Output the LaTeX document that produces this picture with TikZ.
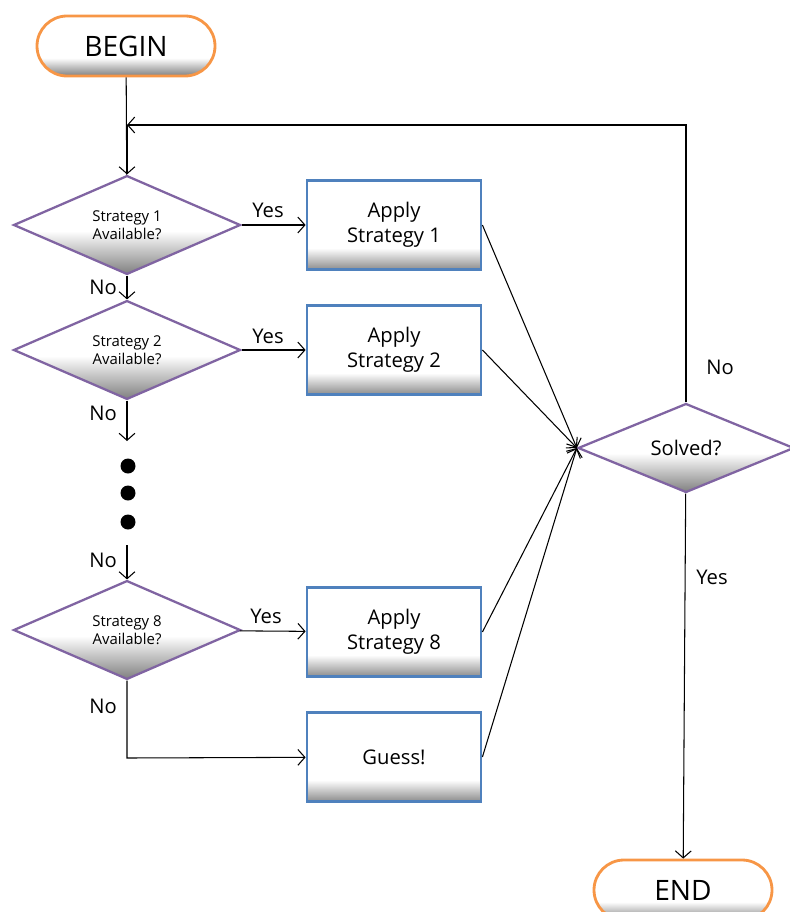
\documentclass[tikz,border=0pt]{standalone}
\usepackage{fontspec}
\setmainfont{Open Sans}
\usetikzlibrary{shapes.geometric,arrows.meta}
\definecolor{termorange}{HTML}{F79646}
\definecolor{boxblue}{HTML}{4F81BD}
\definecolor{testpurple}{HTML}{8064A2}
% bottom bevels: gray at the lower edge, white above
\pgfdeclareverticalshading{bevelterm}{100bp}{color(0bp)=(black!50); color(25bp)=(black!50); color(40bp)=(white); color(100bp)=(white)}
\pgfdeclareverticalshading{bevelbox}{100bp}{color(0bp)=(black!45); color(25bp)=(black!45); color(37bp)=(white); color(100bp)=(white)}
\pgfdeclareverticalshading{beveltest}{100bp}{color(0bp)=(black!50); color(25bp)=(black!50); color(47bp)=(white); color(100bp)=(white)}
\begin{document}
\begin{tikzpicture}[auto,
    terminal/.style ={rectangle, rounded corners=0.6cm, draw=termorange, line width=1.6pt,
      minimum width=3.56cm, minimum height=1.2cm, font=\fontsize{16}{18}\selectfont,
      path picture={\shade[shading=bevelterm] (path picture bounding box.south west) rectangle (path picture bounding box.north east);}},
    strategy/.style ={rectangle, draw=boxblue, line width=1.6pt, align=center,
      minimum width=3.48cm, minimum height=1.78cm, font=\fontsize{11.5}{14}\selectfont,
      path picture={\shade[shading=bevelbox] (path picture bounding box.south west) rectangle (path picture bounding box.north east);}},
    question/.style ={diamond, draw=testpurple, line width=1.3pt, align=center, inner sep=0pt,
      minimum width=4.54cm, minimum height=1.72cm, font=\fontsize{8.5}{10.5}\selectfont,
      path picture={\shade[shading=beveltest] (path picture bounding box.south west) rectangle (path picture bounding box.north east);}},
    answer/.style ={font=\fontsize{11.5}{14}\selectfont},
    dot/.style ={circle, fill=black, inner sep=0pt, minimum size=0.3cm},
    flow/.style ={line width=0.6pt, -{Straight Barb[length=4pt,width=9pt]}}]
   \useasboundingbox (0,0) rectangle (15.8,-18.24);

   \node[terminal] (begin) at (2.52,-0.92) {BEGIN};
   \node[question] (q1) at (2.54,-4.5)  {Strategy 1\\Available?};
   \node[question] (q2) at (2.54,-7.0)  {Strategy 2\\Available?};
   \node[question] (q8) at (2.54,-12.6) {Strategy 8\\Available?};
   \node[strategy] (s1) at (7.88,-4.5)   {Apply\\Strategy 1};
   \node[strategy] (s2) at (7.88,-7.0)   {Apply\\Strategy 2};
   \node[strategy] (s8) at (7.88,-12.64) {Apply\\Strategy 8};
   \node[strategy] (guess) at (7.88,-15.14) {Guess!};
   \node[question, font=\fontsize{11.5}{14}\selectfont, minimum width=4.32cm, minimum height=1.78cm]
     (solved) at (13.72,-8.96) {Solved?};
   \node[terminal] (end) at (13.66,-17.8) {END};

   \node[dot] (dotA) at (2.56,-9.32)  {};
   \node[dot] (dotB) at (2.56,-9.86)  {};
   \node[dot] (dotC) at (2.56,-10.44) {};
   \coordinate (gapTop) at (2.54,-8.82);
   \coordinate (gapBottom) at (2.54,-10.9);
   \coordinate (loopTop) at (13.72,-2.5);
   \coordinate (loopIn) at (2.54,-2.5);
   \coordinate (guessTurn) at (2.54,-15.16);

   \draw[line width=0.6pt] (begin) to (q1);
   \draw[flow] (solved) -- (loopTop) -- (loopIn);
   \draw[flow] (loopIn) to (q1);
   \draw[flow] (q1) to (s1);
   \draw[flow] (q2) to (s2);
   \draw[flow] (q8) to (s8);
   \draw[flow] (q1) to (q2);
   \draw[flow] (q2) to (gapTop);
   \draw[flow] (gapBottom) to (q8);
   \draw[flow] (q8) -- (guessTurn) -- (guess);
   \draw[flow] (s1.east) to (solved.west);
   \draw[flow] (s2.east) to (solved.west);
   \draw[flow] (s8.east) to (solved.west);
   \draw[flow] (guess.east) to (solved.west);
   \draw[flow] (solved) to (end);

   \node[answer] (yes1) at (5.36,-4.2)   {Yes};
   \node[answer] (yes2) at (5.36,-6.72)  {Yes};
   \node[answer] (yes8) at (5.32,-12.32) {Yes};
   \node[answer] (no1) at (2.06,-5.74)  {No};
   \node[answer] (no2) at (2.06,-8.26)  {No};
   \node[answer] (no3) at (2.06,-11.2)  {No};
   \node[answer] (no8) at (2.06,-14.12) {No};
   \node[answer] (noS) at (14.4,-7.34)  {No};
   \node[answer] (yesS) at (14.24,-11.54) {Yes};
 \end{tikzpicture}
\end{document}
